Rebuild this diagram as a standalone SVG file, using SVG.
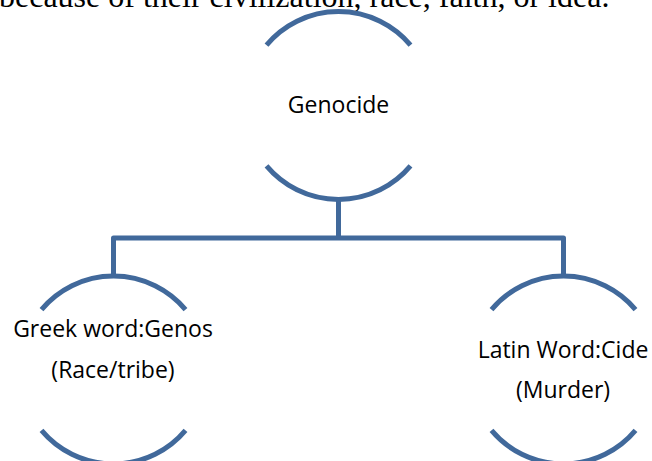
<svg xmlns="http://www.w3.org/2000/svg" width="652" height="461" viewBox="0 0 652 461">
<style>
.arc{fill:none;stroke:#41699B;stroke-width:5}
.con{fill:none;stroke:#41699B;stroke-width:5;stroke-linejoin:round}
.lbl{font-family:"Open Sans","Noto Sans",sans-serif;font-size:23px;fill:#000;text-anchor:middle}
.body{font-family:"Liberation Serif","Times New Roman",serif;font-size:32px;fill:#000}
</style>
<rect width="652" height="461" fill="#fff"/>
<text class="body" x="-1" y="7">because of their civilization, race, faith, or idea.</text>
<g id="connectors">
<path class="con" d="M338.5 199.5 V238 M113.5 276 V238 H563.5 V276"/>
</g>
<g id="genocide">
<path class="arc" d="M266.5 45.1 A94 94 0 0 1 410.5 45.1"/>
<path class="arc" d="M266.5 165.9 A94 94 0 0 0 410.5 165.9"/>
<text class="lbl" x="338.5" y="113">Genocide</text>
</g>
<g id="greek">
<path class="arc" d="M41.5 309.6 A94 94 0 0 1 185.5 309.6"/>
<path class="arc" d="M41.5 430.4 A94 94 0 0 0 185.5 430.4"/>
<text class="lbl" x="113" y="337">Greek word:Genos</text>
<text class="lbl" x="113" y="378">(Race/tribe)</text>
</g>
<g id="latin">
<path class="arc" d="M491.5 309.6 A94 94 0 0 1 635.5 309.6"/>
<path class="arc" d="M491.5 430.4 A94 94 0 0 0 635.5 430.4"/>
<text class="lbl" x="563" y="358">Latin Word:Cide</text>
<text class="lbl" x="563" y="398">(Murder)</text>
</g>
</svg>
